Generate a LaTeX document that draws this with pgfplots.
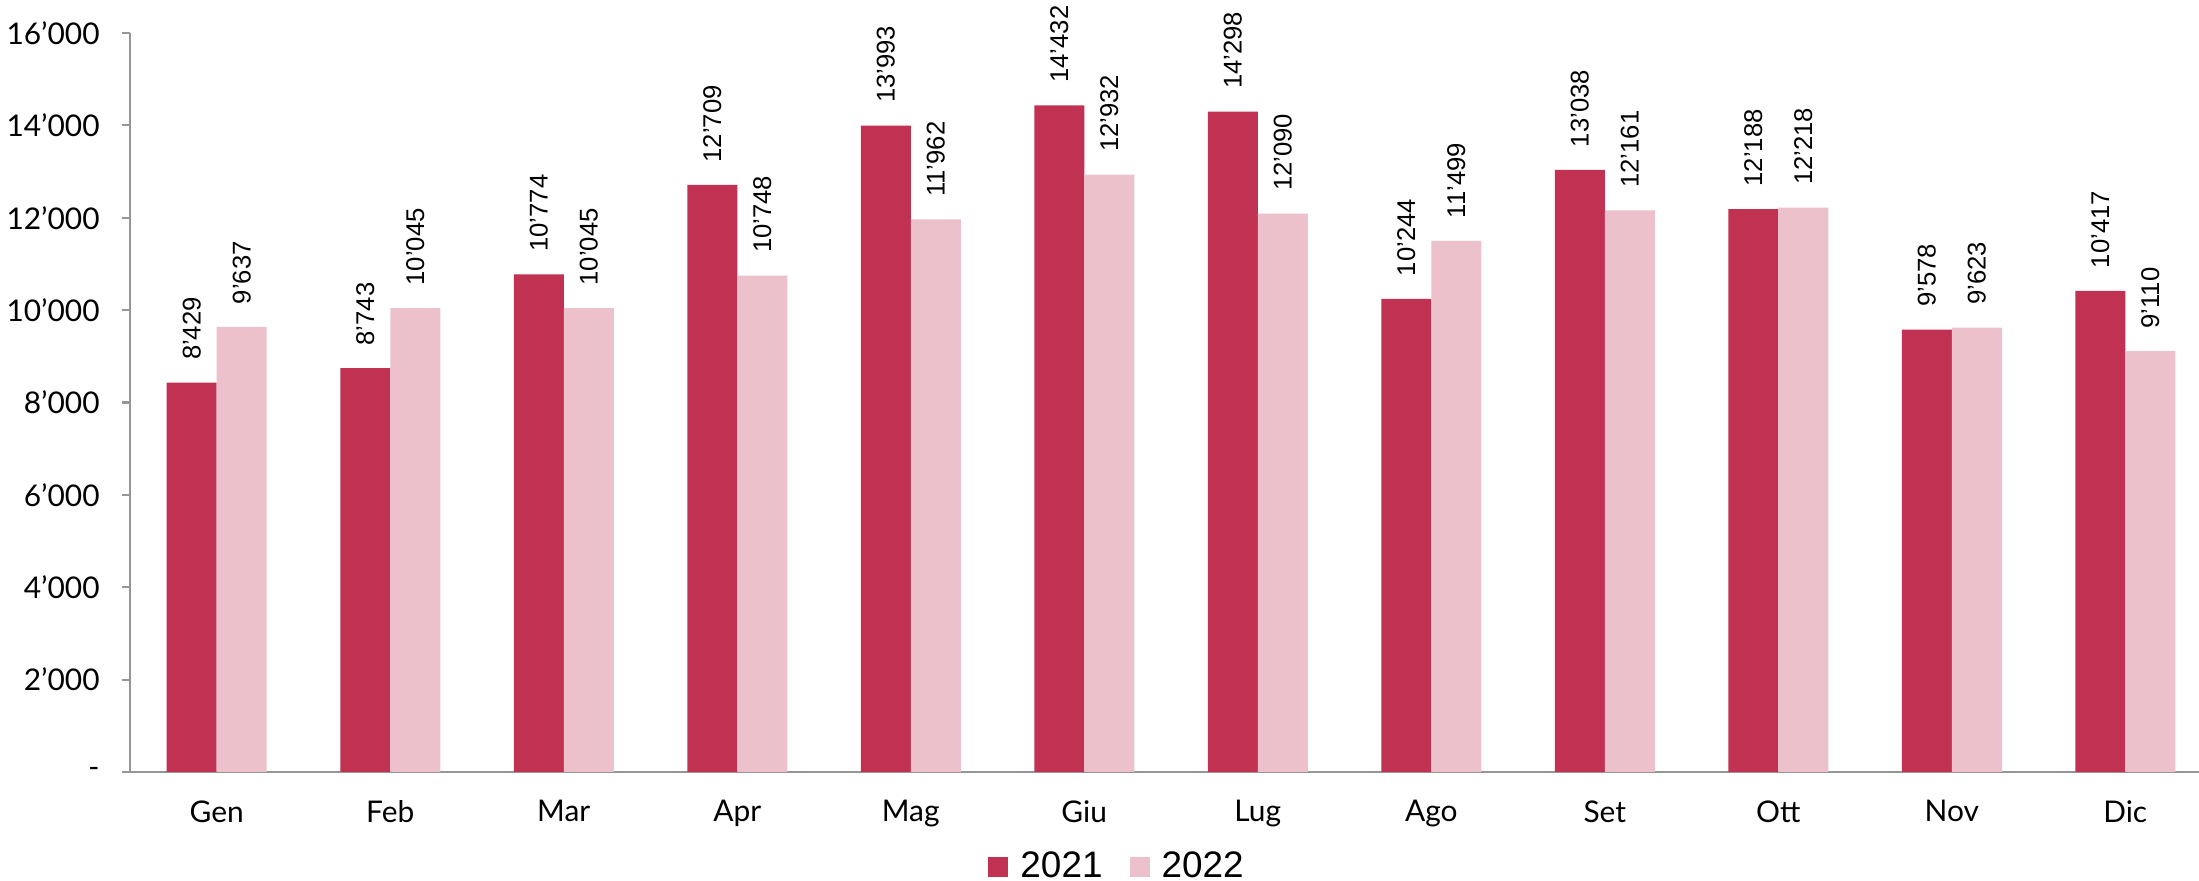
\documentclass[border=0pt]{standalone}
\usepackage{pgfplots}
\pgfplotsset{compat=1.18}
\usepackage{fontspec}
\setmainfont{Liberation Sans}
\newfontfamily\av{Lato}

\definecolor{dark}{RGB}{193,49,82}
\definecolor{light}{RGB}{236,193,203}
\definecolor{axgray}{RGB}{150,150,150}

\begin{document}
\begin{tikzpicture}
\path[use as bounding box] (-1.30cm,-1.09cm) rectangle (20.69cm,7.72cm);
\begin{axis}[
    at={(0,0)}, anchor=south west,
    scale only axis,
    width=20.69cm, height=7.39cm,
    ybar=0pt, bar width=0.5cm,
    xmin=-0.5, xmax=11.425,
    ymin=0, ymax=16000,
    enlarge x limits=false,
    scaled y ticks=false,
    axis x line*=bottom, axis y line*=left,
    axis line style={axgray, line width=0.6pt},
    tick style={axgray, line width=0.6pt},
    tick align=outside,
    major tick length=0.08cm,
    xtick={0,...,11},
    xticklabels={Gen,Feb,Mar,Apr,Mag,Giu,Lug,Ago,Set,Ott,Nov,Dic},
    major x tick style={draw=none},
    extra x ticks={-0.5,0.5,...,11.5},
    extra x tick labels={},
    extra x tick style={major x tick style={axgray, line width=0.6pt}},
    ytick={0,2000,...,16000},
    yticklabels={-,2’000,4’000,6’000,8’000,10’000,12’000,14’000,16’000},
    ticklabel style={font=\av\fontsize{8.5}{10}\selectfont, text=black},
    xticklabel style={yshift=-0.08cm},
    yticklabel style={xshift=-0.1cm},
    /pgf/number format/assume math mode=true,
    /pgf/number format/.cd, fixed, precision=0, 1000 sep={’},
    /pgfplots/.cd,
    nodes near coords,
    nodes near coords style={rotate=90, anchor=west, inner xsep=0.22cm, inner ysep=0pt,
        font=\fontsize{7.3}{9}\selectfont, text=black},
    legend columns=2,
    legend style={draw=none, at={(0.4766,-0.129)}, anchor=center,
        font=\fontsize{10.5}{12}\selectfont,
        /tikz/every odd column/.append style={column sep=0.12cm},
        /tikz/every even column/.append style={column sep=0.27cm},
        nodes={inner xsep=0pt}},
    legend image code/.code={\fill (0cm,-0.1cm) rectangle (0.2cm,0.1cm);},
]
\addplot[fill=dark, draw=none] coordinates {
(0,8429) (1,8743) (2,10774) (3,12709) (4,13993) (5,14432)
(6,14298) (7,10244) (8,13038) (9,12188) (10,9578) (11,10417)};
\addplot[fill=light, draw=none] coordinates {
(0,9637) (1,10045) (2,10045) (3,10748) (4,11962) (5,12932)
(6,12090) (7,11499) (8,12161) (9,12218) (10,9623) (11,9110)};
\legend{2021,2022}
\end{axis}
\end{tikzpicture}
\end{document}
